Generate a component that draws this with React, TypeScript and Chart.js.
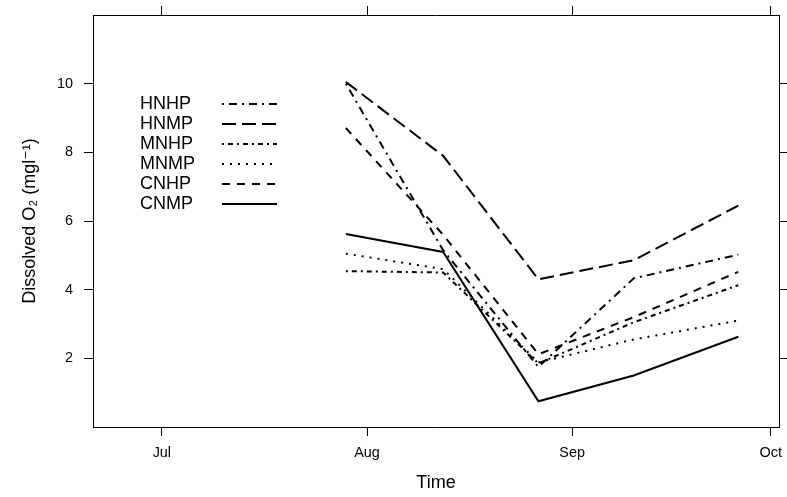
import React, { useEffect, useRef } from 'react';
import { Chart, registerables } from 'chart.js';

Chart.register(...registerables);

// x positions: days counted from 1 July
const sampleDays = [27.8, 42.5, 56.9, 71.3, 87.1];

const HNHP = [10.0, 5.15, 1.75, 4.33, 5.02];
const HNMP = [10.05, 7.9, 4.3, 4.86, 6.45];
const MNHP = [4.54, 4.5, 1.85, 3.05, 4.13];
const MNMP = [5.05, 4.6, 1.88, 2.55, 3.1];
const CNHP = [8.71, 5.6, 2.12, 3.2, 4.52];
const CNMP = [5.62, 5.1, 0.75, 1.5, 2.63];

const seriesNames = ['HNHP', 'HNMP', 'MNHP', 'MNMP', 'CNHP', 'CNMP'];
const seriesValues = [HNHP, HNMP, MNHP, MNMP, CNHP, CNMP];
const seriesDashes = [
  [2, 5, 8, 5],
  [14, 6],
  [2, 4, 5, 4],
  [2, 6],
  [8, 7],
  [],
];

const monthTickDays = [0, 31, 62, 92];
const monthLabels = ['Jul', 'Aug', 'Sep', 'Oct'];
const yTickValues = [2, 4, 6, 8, 10];

const X_MIN = -10.4;
const X_MAX = 93.25;
const Y_MIN = 0;
const Y_MAX = 12;

const FONT = '"Liberation Sans", Arial, Helvetica, "DejaVu Sans", sans-serif';

const insetLegend = {
  id: 'insetLegend',
  afterDatasetsDraw(chart: any) {
    const ctx = chart.ctx;
    ctx.save();
    ctx.font = `18px ${FONT}`;
    ctx.fillStyle = '#000';
    ctx.textBaseline = 'middle';
    ctx.textAlign = 'left';
    chart.data.datasets.forEach((ds: any, i: number) => {
      const y = 104 + i * 20;
      ctx.fillText(ds.label, 140, y);
      ctx.beginPath();
      ctx.setLineDash(ds.borderDash || []);
      ctx.lineWidth = ds.borderWidth;
      ctx.strokeStyle = ds.borderColor;
      ctx.lineCap = 'butt';
      ctx.moveTo(222, y);
      ctx.lineTo(277, y);
      ctx.stroke();
    });
    ctx.restore();
  },
};

const monthTicks = (scale: any) => {
  scale.ticks = monthTickDays.map((v) => ({ value: v }));
};
const yTicks = (scale: any) => {
  scale.ticks = yTickValues.map((v) => ({ value: v }));
};
const noPad = (s: any) => {
  s.paddingTop = 0;
  s.paddingBottom = 0;
  s.paddingLeft = 0;
  s.paddingRight = 0;
};

const gridOpts = (len: number) => ({
  display: true,
  drawOnChartArea: false,
  drawTicks: true,
  tickLength: len,
  color: '#000',
  lineWidth: 1,
});
const borderOpts = { display: true, color: '#000', width: 1 };

export default function App() {
  const canvasRef = useRef<HTMLCanvasElement>(null);

  useEffect(() => {
    document.body.style.margin = '0';
    const canvas = canvasRef.current;
    if (!canvas) return;

    const datasets = seriesNames.map((name, i) => ({
      label: name,
      data: sampleDays.map((d, j) => ({ x: d, y: seriesValues[i][j] })),
      borderColor: '#000',
      backgroundColor: '#000',
      borderWidth: 2,
      borderDash: seriesDashes[i],
      borderCapStyle: 'butt',
      pointRadius: 0,
      tension: 0,
      fill: false,
    }));

    const chart = new Chart(canvas, {
      type: 'line',
      data: { datasets },
      plugins: [insetLegend],
      options: {
        animation: false,
        responsive: false,
        devicePixelRatio: 1,
        layout: { padding: 0 },
        plugins: {
          legend: { display: false },
          tooltip: { enabled: false },
          title: { display: false },
        },
        scales: {
          x: {
            type: 'linear',
            position: 'bottom',
            min: X_MIN,
            max: X_MAX,
            afterBuildTicks: monthTicks,
            afterFit: (s: any) => { s.height = 70; noPad(s); },
            grid: gridOpts(9),
            border: borderOpts,
            ticks: {
              autoSkip: false,
              maxRotation: 0,
              padding: 8,
              color: '#000',
              font: { family: FONT, size: 14.4 },
              callback: (v: any) => monthLabels[monthTickDays.indexOf(v)] ?? '',
            },
            title: {
              display: true,
              text: 'Time',
              color: '#000',
              font: { family: FONT, size: 18 },
              padding: { top: 0, bottom: 3 },
            },
          },
          x2: {
            type: 'linear',
            position: 'top',
            min: X_MIN,
            max: X_MAX,
            afterBuildTicks: monthTicks,
            afterFit: (s: any) => { s.height = 15; noPad(s); },
            grid: gridOpts(9),
            border: borderOpts,
            ticks: { display: false },
          },
          y: {
            type: 'linear',
            position: 'left',
            min: Y_MIN,
            max: Y_MAX,
            afterBuildTicks: yTicks,
            afterFit: (s: any) => { s.width = 93; noPad(s); },
            grid: gridOpts(9),
            border: borderOpts,
            ticks: {
              autoSkip: false,
              padding: 11,
              color: '#000',
              font: { family: FONT, size: 14.4 },
            },
            title: {
              display: true,
              text: 'Dissolved O\u2082 (mgl\u207B\u00B9)',
              color: '#000',
              font: { family: FONT, size: 18 },
              padding: { top: 19, bottom: 0 },
            },
          },
          y2: {
            type: 'linear',
            position: 'right',
            min: Y_MIN,
            max: Y_MAX,
            afterBuildTicks: yTicks,
            afterFit: (s: any) => { s.width = 8; noPad(s); },
            grid: gridOpts(8),
            border: borderOpts,
            ticks: { display: false },
          },
        },
      } as any,
    });

    return () => chart.destroy();
  }, []);

  return (
    <div style={{ width: 787, height: 497 }}>
      <canvas ref={canvasRef} width={787} height={497} style={{ display: 'block' }} />
    </div>
  );
}
